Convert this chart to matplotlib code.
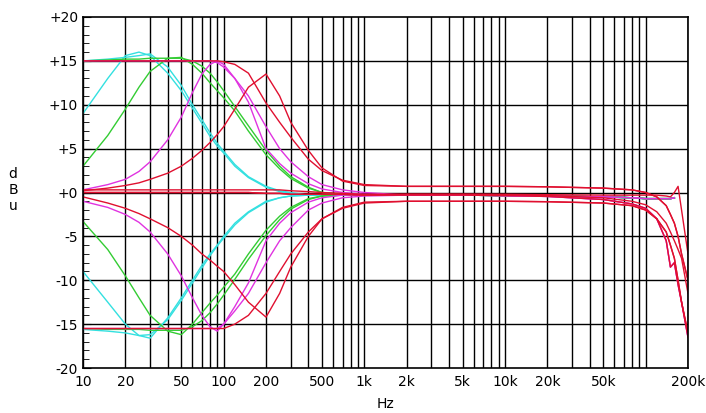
import numpy as np
import matplotlib.pyplot as plt
from matplotlib.ticker import FixedLocator, NullFormatter

# low-frequency section frequencies (Hz)
f_lo = [10, 15, 20, 25, 30, 40, 50, 60, 70, 80, 90, 100, 120, 150, 200, 250, 300, 400, 500, 700, 1000]

# boost curves
cyan_peak_up   = [9.0, 13.0, 15.6, 16.0, 15.6, 13.6, 11.6, 9.6, 7.9, 6.4, 5.3, 4.5, 3.0, 1.7, 0.6, 0.1, -0.1, -0.3, -0.3, -0.3, -0.3]
cyan_shelf_up  = [15.0, 15.2, 15.4, 15.6, 15.8, 14.3, 12.2, 10.0, 8.3, 6.8, 5.6, 4.7, 3.2, 1.8, 0.7, 0.2, 0.0, -0.3, -0.3, -0.3, -0.3]
green_peak_up  = [3.0, 6.5, 9.5, 12.0, 13.8, 15.3, 15.4, 14.6, 13.6, 12.5, 11.6, 10.8, 9.3, 7.0, 4.3, 2.7, 1.6, 0.5, 0.0, -0.2, -0.3]
green_shelf_up = [15.0, 15.1, 15.2, 15.2, 15.3, 15.3, 15.3, 15.0, 14.4, 13.6, 12.6, 11.6, 9.8, 7.6, 4.8, 3.0, 1.8, 0.6, 0.0, -0.2, -0.3]
mag_peak_up    = [0.3, 0.9, 1.5, 2.4, 3.5, 6.0, 8.6, 11.4, 13.5, 14.6, 15.0, 14.6, 13.0, 10.3, 5.0, 3.3, 2.2, 1.0, 0.4, 0.0, -0.2]
mag_shelf_up   = [15.0, 15.0, 15.0, 15.0, 15.0, 15.0, 15.0, 15.0, 15.0, 15.0, 14.8, 14.3, 13.0, 11.0, 7.5, 5.0, 3.5, 1.8, 0.9, 0.3, 0.0]
red_peak_up    = [0.2, 0.5, 0.8, 1.1, 1.5, 2.2, 3.0, 3.9, 4.8, 5.7, 6.6, 7.5, 9.5, 12.0, 13.5, 11.0, 8.0, 4.8, 2.8, 1.3, 0.8]
red_shelf_up   = [15.0, 15.0, 15.0, 15.0, 15.0, 15.0, 15.0, 15.0, 15.0, 15.0, 15.0, 14.9, 14.6, 13.6, 10.2, 8.0, 6.3, 3.8, 2.5, 1.4, 0.9]

# cut curves
cyan_peak_dn   = [-9.0, -12.5, -15.0, -16.3, -16.6, -14.3, -12.0, -10.0, -8.3, -7.0, -6.0, -5.0, -3.5, -2.2, -1.0, -0.6, -0.4, -0.3, -0.3, -0.3, -0.3]
cyan_shelf_dn  = [-15.6, -15.8, -16.0, -16.3, -16.2, -14.5, -12.3, -10.3, -8.6, -7.2, -6.1, -5.2, -3.7, -2.3, -1.1, -0.6, -0.4, -0.3, -0.3, -0.3, -0.3]
green_peak_dn  = [-3.3, -6.5, -9.5, -12.0, -14.0, -15.8, -16.2, -15.0, -13.7, -12.6, -11.7, -10.8, -9.3, -7.0, -4.3, -2.7, -1.7, -0.7, -0.4, -0.3, -0.3]
green_shelf_dn = [-15.5, -15.6, -15.6, -15.6, -15.7, -15.7, -15.7, -15.3, -14.6, -13.7, -12.7, -11.7, -9.9, -7.6, -4.9, -3.1, -1.9, -0.8, -0.4, -0.3, -0.3]
mag_peak_dn    = [-1.0, -1.7, -2.5, -3.4, -4.5, -7.0, -9.5, -12.0, -14.0, -15.3, -15.8, -15.0, -13.0, -10.3, -5.5, -3.5, -2.3, -1.1, -0.6, -0.3, -0.3]
mag_shelf_dn   = [-15.5, -15.5, -15.5, -15.5, -15.5, -15.5, -15.5, -15.5, -15.5, -15.5, -15.5, -15.0, -13.5, -11.5, -8.0, -5.5, -4.0, -2.0, -1.2, -0.6, -0.4]
red_peak_dn    = [-0.5, -1.2, -1.8, -2.4, -3.0, -4.0, -5.0, -6.0, -7.0, -7.7, -8.4, -9.0, -10.5, -12.5, -14.2, -11.5, -8.5, -5.0, -3.0, -1.7, -1.1]
red_shelf_dn   = [-15.5, -15.5, -15.5, -15.5, -15.5, -15.5, -15.5, -15.5, -15.5, -15.5, -15.5, -15.5, -15.0, -14.0, -11.5, -9.0, -7.0, -4.5, -3.0, -1.8, -1.2]
red_flat_a     = [0.3, 0.3, 0.3, 0.3, 0.3, 0.3, 0.3, 0.3, 0.3, 0.3, 0.3, 0.3, 0.3, 0.3, 0.3, 0.3, 0.2, 0.1, 0.0, -0.1, -0.2]
red_flat_b     = [0.0, 0.0, 0.0, 0.0, 0.0, 0.0, 0.0, 0.0, 0.0, 0.0, 0.0, 0.0, 0.0, 0.0, -0.1, -0.1, -0.2, -0.2, -0.2, -0.2, -0.3]

# high-frequency tails
f_hi = [2000, 5000, 10000, 20000, 50000, 80000, 100000, 120000, 140000, 150000, 160000, 170000, 180000, 200000]
tail_flat  = [-0.3, -0.3, -0.35, -0.4, -0.5, -0.6, -0.7, -0.7, -0.7, -0.7, -0.6, np.nan, np.nan, np.nan]
tail_steep = [-0.3, -0.3, -0.35, -0.45, -0.8, -1.3, -1.8, -3.0, -5.5, -8.5, -8.0, -10.5, -12.5, -16.5]
tail_mid   = [-0.2, -0.2, -0.25, -0.35, -0.6, -1.0, -1.4, -2.2, -3.5, -4.5, -5.5, -6.5, -7.5, -11.5]
tail_spike = [-0.2, -0.2, -0.2, -0.25, -0.3, -0.3, -0.3, -0.3, -0.4, -0.5, 0.0, 0.7, -2.0, -7.0]
tail_up    = [0.7, 0.7, 0.7, 0.65, 0.5, 0.3, 0.0, -0.5, -1.5, -2.5, -3.5, -5.0, -7.0, -10.0]
tail_dn    = [-1.0, -1.0, -1.0, -1.05, -1.2, -1.5, -2.0, -3.0, -4.5, -6.0, -7.5, -10.0, -12.5, -16.0]

CYAN, GREEN, MAG, RED = '#33e0e0', '#33cc33', '#e033e0', '#e01030'
curves = [
    (cyan_peak_up, tail_flat, CYAN), (cyan_shelf_up, tail_flat, CYAN),
    (cyan_peak_dn, tail_flat, CYAN), (cyan_shelf_dn, tail_flat, CYAN),
    (green_peak_up, tail_flat, GREEN), (green_shelf_up, tail_flat, GREEN),
    (green_peak_dn, tail_flat, GREEN), (green_shelf_dn, tail_flat, GREEN),
    (mag_peak_up, tail_steep, MAG), (mag_shelf_up, tail_flat, MAG),
    (mag_peak_dn, tail_flat, MAG), (mag_shelf_dn, tail_steep, MAG),
    (red_peak_up, tail_up, RED), (red_shelf_up, tail_up, RED),
    (red_peak_dn, tail_dn, RED), (red_shelf_dn, tail_dn, RED),
    (red_flat_a, tail_spike, RED), (red_flat_b, tail_steep, RED),
    (red_flat_b, tail_mid, RED),
]

fig = plt.figure(figsize=(7.06, 4.13), dpi=100)
ax = fig.add_axes([83/706, 45/413, 605/706, 351/413])

major = [10, 100, 1000, 10000, 100000]
grid_x = [m * k for m in major for k in range(1, 10)] + [200000]
for g in grid_x:
    ax.axvline(g, color='black', lw=1.0, zorder=1)
for v in range(-15, 20, 5):
    ax.axhline(v, color='black', lw=1.0, zorder=1)

for lo, hi, c in curves:
    ax.plot(f_lo + f_hi, lo + hi, color=c, lw=1.0, zorder=2)

ax.set_xscale('log')
ax.set_xlim(10, 200000)
ax.set_ylim(-20, 20)
xt = [10, 20, 50, 100, 200, 500, 1000, 2000, 5000, 10000, 20000, 50000, 200000]
xl = ['10', '20', '50', '100', '200', '500', '1k', '2k', '5k', '10k', '20k', '50k', '200k']
ax.xaxis.set_major_locator(FixedLocator(xt))
ax.set_xticklabels(xl)
ax.xaxis.set_minor_formatter(NullFormatter())
ax.tick_params(axis='x', which='both', length=0, labelsize=10, pad=5)
yt = list(range(-20, 25, 5))
ax.set_yticks(yt)
ax.set_yticklabels([('+%d' % v) if v >= 0 else '%d' % v for v in yt])
ax.set_yticks(range(-20, 21), minor=True)
ax.tick_params(axis='y', which='major', direction='in', length=6, labelsize=10)
ax.tick_params(axis='y', which='minor', direction='in', length=4)
for s in ax.spines.values():
    s.set_linewidth(1.2)
ax.set_xlabel('Hz', fontsize=10, labelpad=6)
fig.text(13/706, 1 - 190/413, 'd\nB\nu', ha='center', va='center', fontsize=10, linespacing=1.2)

fig.savefig('out.png', dpi=100)
